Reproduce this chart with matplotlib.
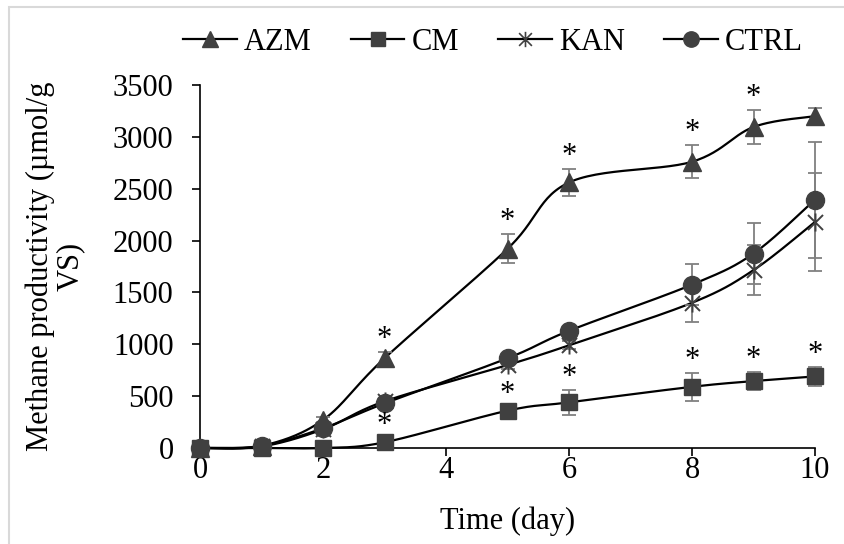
import numpy as np
import matplotlib
matplotlib.use("Agg")
import matplotlib.pyplot as plt
from matplotlib.path import Path
from matplotlib.lines import Line2D
from matplotlib.patches import Rectangle

# Sampling days and cumulative methane productivity (µmol/g VS)
days = [0, 1, 2, 3, 5, 6, 8, 9, 10]
azm = [0, 20, 270, 865, 1920, 2560, 2760, 3095, 3200]
cm = [0, 0, 0, 55, 360, 440, 590, 645, 690]
kan = [0, 15, 180, 450, 800, 990, 1400, 1715, 2180]
ctrl = [0, 20, 190, 430, 865, 1130, 1575, 1875, 2395]

# Standard deviations
azm_err = [0, 0, 30, 60, 140, 130, 160, 165, 75]
cm_err = [0, 0, 0, 20, 40, 120, 135, 90, 95]
kan_err = [0, 0, 20, 30, 40, 40, 185, 240, 470]
ctrl_err = [0, 0, 20, 30, 40, 40, 200, 290, 560]

# Days with a significant difference from the control
azm_sig = [3, 5, 6, 8, 9]
cm_sig = [3, 5, 6, 8, 9, 10]

x_ticks = [0, 2, 4, 6, 8, 10]
y_ticks = [0, 500, 1000, 1500, 2000, 2500, 3000, 3500]

plt.rcParams["font.family"] = ["Liberation Serif", "DejaVu Serif"]

FS = 22
MARK = "#404040"
ERRC = "#808080"

# asterisk-style marker: an X crossed by a vertical stroke
star_verts = [(-0.5, -0.5), (0.5, 0.5), (-0.5, 0.5), (0.5, -0.5), (0, -0.6), (0, 0.6)]
star_codes = [Path.MOVETO, Path.LINETO] * 3
xstar = Path(star_verts, star_codes)


def smooth(xs, ys, n=30):
    """Catmull-Rom style Bezier curve through the points (like a smoothed line chart)."""
    pts = np.column_stack([xs, ys]).astype(float)
    m = len(pts)
    out = []
    for i in range(m - 1):
        p0 = pts[max(i - 1, 0)]
        p1 = pts[i]
        p2 = pts[i + 1]
        p3 = pts[min(i + 2, m - 1)]
        c1 = p1 + (p2 - p0) / 6.0
        c2 = p2 - (p3 - p1) / 6.0
        t = np.linspace(0, 1, n)[:, None]
        seg = ((1 - t) ** 3) * p1 + 3 * ((1 - t) ** 2) * t * c1 + 3 * (1 - t) * t ** 2 * c2 + t ** 3 * p2
        out.append(seg if i == 0 else seg[1:])
    seg = np.vstack(out)
    return seg[:, 0], seg[:, 1]


fig = plt.figure(figsize=(8.44, 5.44), dpi=100)
ax = fig.add_axes([200 / 844, 1 - 448 / 544, 615 / 844, 363 / 544])

series = [
    ("AZM", azm, azm_err, "^", 13),
    ("CM", cm, cm_err, "s", 12),
    ("KAN", kan, kan_err, xstar, 13),
    ("CTRL", ctrl, ctrl_err, "o", 13),
]

handles = []
for name, vals, errs, mk, ms in series:
    sx, sy = smooth(days, vals)
    ax.plot(sx, sy, color="black", lw=1.6, zorder=2, solid_capstyle="butt")
    ax.errorbar(days, vals, yerr=errs, fmt="none", ecolor=ERRC, elinewidth=1.3,
                capsize=5, capthick=1.3, zorder=3)
    if mk is xstar:
        ax.plot(days, vals, linestyle="none", marker=mk, ms=ms, mec=MARK,
                mew=1.4, zorder=4)
        h = Line2D([], [], color="black", lw=1.6, marker=mk, ms=ms * 0.85,
                   mec=MARK, mew=1.2)
    else:
        ax.plot(days, vals, linestyle="none", marker=mk, ms=ms, mfc=MARK,
                mec=MARK, zorder=4)
        h = Line2D([], [], color="black", lw=1.6, marker=mk, ms=ms * 0.85,
                   mfc=MARK, mec=MARK)
    handles.append((h, name))

# significance asterisks above the error bars
for vals, errs, sig in [(azm, azm_err, azm_sig), (cm, cm_err, cm_sig)]:
    for d in sig:
        i = days.index(d)
        top = vals[i] + max(errs[i], 40)
        ax.annotate("*", xy=(d, top), xytext=(0, 3.5), textcoords="offset points",
                    ha="center", va="baseline", fontsize=FS, zorder=5)

ax.set_xlim(0, 10)
ax.set_ylim(0, 3500)
ax.set_xticks(x_ticks)
ax.set_yticks(y_ticks)
ax.set_xticklabels([str(v) for v in x_ticks])
ax.set_yticklabels([str(v) for v in y_ticks])
ax.tick_params(axis="both", direction="out", length=6, width=1.2, labelsize=FS,
               color="black")
ax.tick_params(axis="y", pad=13)
ax.tick_params(axis="x", pad=0)
for s in ("top", "right"):
    ax.spines[s].set_visible(False)
for s in ("left", "bottom"):
    ax.spines[s].set_linewidth(1.2)
for child in ax.get_children():
    if hasattr(child, "set_clip_on"):
        child.set_clip_on(False)

ax.set_xlabel("Time (day)", fontsize=FS, labelpad=15)
ax.set_ylabel("Methane productivity (µmol/g\nVS)", fontsize=FS, linespacing=1.05)
ax.yaxis.label.set_va("center")
ax.yaxis.set_label_coords(-0.236, 0.5)

fig.legend([h for h, _ in handles], [n for _, n in handles], loc="center",
           bbox_to_anchor=(493 / 844, 1 - 42 / 544), ncol=4, frameon=False,
           fontsize=FS, handlelength=1.74, handletextpad=0.23, columnspacing=1.3,
           borderaxespad=0, borderpad=0)

# light outer frame
fig.patches.append(Rectangle((9 / 844, -0.01), 1.0, 1 - 7 / 544 + 0.01,
                             transform=fig.transFigure, fill=False,
                             edgecolor="#d9d9d9", lw=1.5))

fig.savefig("out.png", dpi=100)
